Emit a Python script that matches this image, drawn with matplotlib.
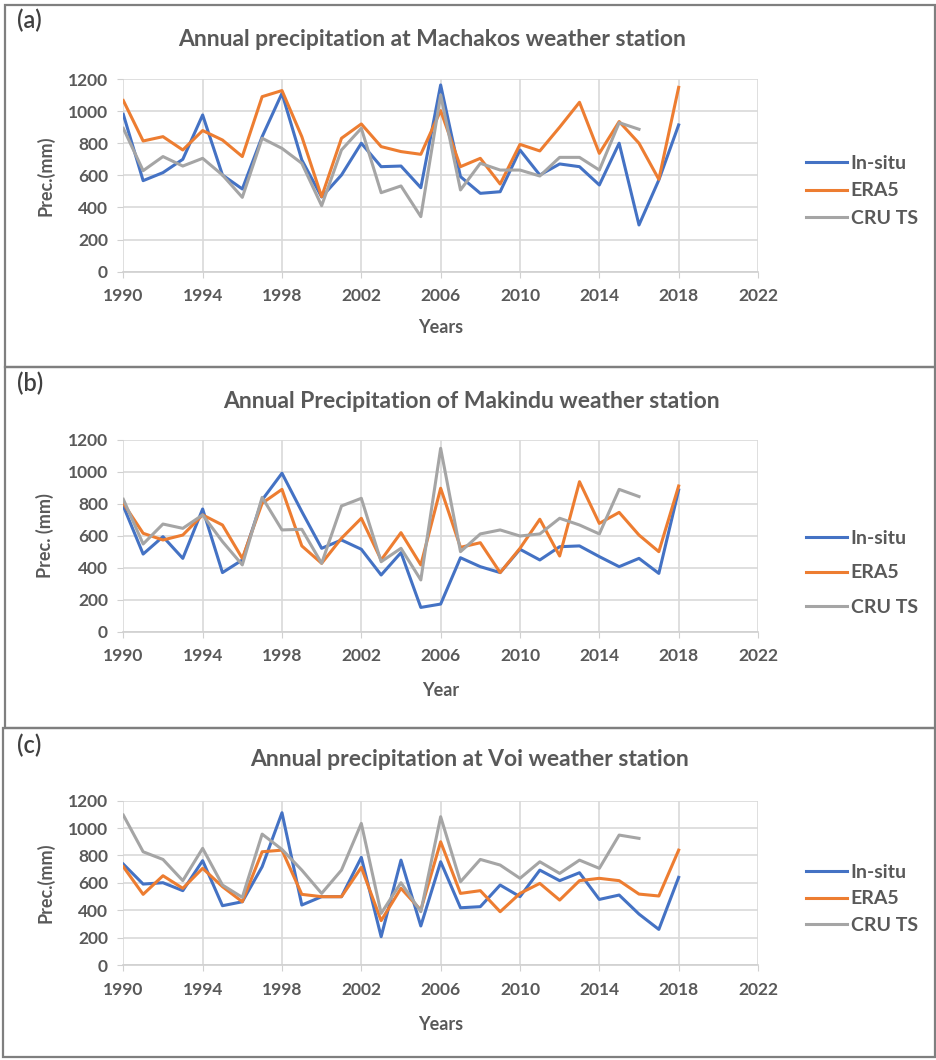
import matplotlib.pyplot as plt
from matplotlib.patches import Rectangle

plt.rcParams['font.family'] = ['Lato', 'DejaVu Sans']

years = list(range(1990, 2019))
cru_years = list(range(1990, 2017))

# Machakos
mach_insitu = [980, 567, 617, 700, 976, 602, 515, 841, 1111, 696, 465, 602, 800, 654, 658, 523,
               1163, 592, 488, 498, 758, 602, 671, 654, 540, 800, 291, 571, 914]
mach_era5 = [1066, 814, 841, 758, 879, 820, 717, 1090, 1128, 841, 467, 831, 920, 779, 748, 731,
             1003, 654, 706, 546, 793, 752, 900, 1055, 737, 935, 800, 575, 1148]
mach_cru = [893, 629, 717, 658, 706, 602, 463, 831, 768, 675, 411, 758, 893, 492, 534, 343,
            1101, 509, 675, 633, 633, 596, 712, 712, 633, 928, 887]

# Makindu
maki_insitu = [787, 486, 595, 459, 768, 370, 449, 825, 992, 752, 522, 574, 516, 355, 495, 152,
               173, 463, 407, 370, 516, 449, 532, 537, 470, 407, 459, 365, 887]
maki_era5 = [804, 616, 574, 605, 731, 668, 459, 804, 891, 537, 428, 585, 710, 449, 620, 418,
             898, 528, 557, 370, 522, 704, 474, 939, 678, 747, 605, 501, 912]
maki_cru = [829, 549, 674, 647, 731, 564, 418, 841, 637, 641, 428, 787, 835, 438, 522, 324,
            1148, 501, 612, 637, 599, 612, 710, 668, 612, 891, 846]

# Voi
voi_insitu = [737, 591, 601, 543, 762, 433, 462, 718, 1112, 438, 499, 499, 786, 207, 766, 285,
              754, 418, 426, 584, 499, 693, 616, 674, 479, 511, 372, 260, 640]
voi_era5 = [718, 516, 652, 560, 706, 572, 462, 827, 839, 516, 499, 499, 713, 324, 560, 401,
            900, 523, 543, 389, 523, 596, 474, 616, 633, 616, 518, 504, 839]
voi_cru = [1095, 827, 771, 616, 852, 584, 494, 956, 844, 693, 523, 693, 1034, 377, 601, 389,
           1083, 608, 771, 730, 633, 754, 669, 766, 706, 949, 925]

series_labels = ['In-situ', 'ERA5', 'CRU TS']
colors = ['#4472C4', '#ED7D31', '#A5A5A5']
txt = '#595959'

W, H = 937, 1060
fig = plt.figure(figsize=(W / 100, H / 100), dpi=100)

def fx(px):
    return px / W

def fy(py):
    return 1 - py / H

panels = [
    dict(tag='(a)', title='Annual precipitation at Machakos weather station', xlabel='Years',
         ylabel='Prec.(mm)', data=(mach_insitu, mach_era5, mach_cru),
         box=(5, 5, 935, 367), ax_top=79, ax_bot=271.7, tag_y=20, title_y=40,
         xlab_y=328, leg_y=191, leg_sp=0.55, title_x=432),
    dict(tag='(b)', title='Annual Precipitation of Makindu weather station', xlabel='Year',
         ylabel='Prec. (mm)', data=(maki_insitu, maki_era5, maki_cru),
         box=(5, 367, 935, 728), ax_top=440, ax_bot=631.7, tag_y=383, title_y=401,
         xlab_y=690, leg_y=573, leg_sp=0.9, title_x=471),
    dict(tag='(c)', title='Annual precipitation at Voi weather station', xlabel='Years',
         ylabel='Prec.(mm)', data=(voi_insitu, voi_era5, voi_cru),
         box=(3, 728, 935, 1057), ax_top=800.7, ax_bot=965, tag_y=745, title_y=760,
         xlab_y=1025, leg_y=899, leg_sp=0.5, title_x=470),
]

for p in panels:
    x0, y0, x1, y1 = p['box']
    fig.add_artist(Rectangle((fx(x0), fy(y1)), fx(x1 - x0), (y1 - y0) / H,
                             transform=fig.transFigure, fill=False,
                             edgecolor='#7f7f7f', linewidth=1.6))

    ax = fig.add_axes([fx(123.3), fy(p['ax_bot']), fx(758 - 123.3),
                       (p['ax_bot'] - p['ax_top']) / H])
    insitu, era5, cru = p['data']
    ax.plot(years, insitu, color=colors[0], lw=2.2, label=series_labels[0])
    ax.plot(years, era5, color=colors[1], lw=2.2, label=series_labels[1])
    ax.plot(cru_years, cru, color=colors[2], lw=2.2, label=series_labels[2])

    ax.set_xlim(1990, 2022)
    ax.set_ylim(0, 1200)
    ax.set_xticks(range(1990, 2023, 4))
    ax.set_yticks(range(0, 1201, 200))
    ax.grid(True, color='#d9d9d9', linewidth=1.2)
    ax.set_axisbelow(True)
    for s in ['top', 'right', 'left']:
        ax.spines[s].set_visible(False)
    ax.spines['bottom'].set_color('#d0d0d0')
    ax.spines['bottom'].set_linewidth(1.2)
    ax.tick_params(axis='x', colors='#d0d0d0', labelcolor=txt, length=4, pad=8,
                   labelsize=12.5)
    ax.tick_params(axis='y', colors='#d0d0d0', labelcolor=txt, length=4, pad=7,
                   labelsize=12.5)
    for lab in ax.get_xticklabels() + ax.get_yticklabels():
        lab.set_fontweight('bold')

    fig.text(fx(17), fy(p['tag_y']), p['tag'], fontsize=17, color='#404040',
             fontweight='semibold', va='center', ha='left')
    fig.text(fx(p['title_x']), fy(p['title_y']), p['title'], fontsize=16.5,
             fontweight='bold', color=txt, ha='center', va='center')
    fig.text(fx(441), fy(p['xlab_y']), p['xlabel'], fontsize=13, fontweight='bold',
             color=txt, ha='center', va='center')
    fig.text(fx(45), fy((p['ax_top'] + p['ax_bot']) / 2), p['ylabel'], fontsize=13,
             fontweight='bold', color=txt, ha='center', va='center', rotation=90)

    leg = ax.legend(loc='center left', bbox_to_anchor=(fx(806), fy(p['leg_y'])),
                    bbox_transform=fig.transFigure, frameon=False, fontsize=14,
                    borderpad=0, borderaxespad=0, handlelength=2.1,
                    handletextpad=0.2, labelspacing=p['leg_sp'])
    for t in leg.get_texts():
        t.set_color(txt)
        t.set_fontweight('bold')

fig.savefig('out.png', dpi=100, facecolor='white')
